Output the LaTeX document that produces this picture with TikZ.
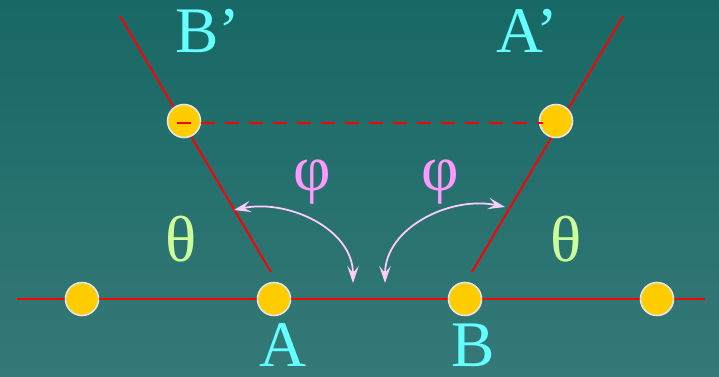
\documentclass[tikz,border=0pt]{standalone}
\usepackage{fontspec}
\setmainfont{Liberation Serif}
\usetikzlibrary{arrows.meta}

\definecolor{bgtop}{RGB}{23,104,102}
\definecolor{bgbot}{RGB}{53,121,119}
\definecolor{ballfill}{RGB}{255,204,0}
\definecolor{ballrim}{RGB}{230,230,230}
\definecolor{labcyan}{RGB}{102,255,255}
\definecolor{phipink}{RGB}{255,153,255}
\definecolor{arcpink}{RGB}{255,204,255}
\definecolor{thetagreen}{RGB}{204,255,153}

\tikzset{
    redline/.style={draw=red, line width=1.1pt},
    ball/.style={circle, fill=ballfill, draw=ballrim, line width=0.9pt,
                 minimum size=0.66cm, inner sep=0pt},
    biglabel/.style={font=\fontsize{37}{40}\selectfont, inner sep=0pt},
    swing/.style={draw=arcpink, line width=1pt,
                  {Stealth[length=3.4mm,width=2.3mm,inset=1.4mm]}-{Stealth[length=3.4mm,width=2.3mm,inset=1.4mm]}}
}

\begin{document}
\begin{tikzpicture}[x=0.02cm, y=0.02cm]
                % 1. Háttér
                \shade[top color=bgtop, bottom color=bgbot] (0,0) rectangle (719,376);
                \useasboundingbox (0,0) rectangle (719,376);

                % 2. Egyenesek végpontjai
                \coordinate (base-l) at (17,77);
                \coordinate (base-r) at (705,77);
                \coordinate (left-top) at (120,360);
                \coordinate (left-bot) at (271,104);
                \coordinate (right-top) at (623,360);
                \coordinate (right-bot) at (472,104);
                \coordinate (dash-l) at (177,253);
                \coordinate (dash-r) at (543,253);

                \draw[redline] (base-l) -- (base-r);
                \draw[redline] (left-top) -- (left-bot);
                \draw[redline] (right-top) -- (right-bot);

                % 3. Golyók
                \foreach \n/\x in {1/82, 2/274, 3/465, 4/657} {
                    \node[ball] (b-\n) at (\x,77) {};
                }
                \node[ball] (bp) at (184,255) {};
                \node[ball] (ap) at (556,255) {};

                \draw[redline, dash pattern=on 0.28cm off 0.2cm] (dash-l) -- (dash-r);

                % 4. Szögnyilak
                \coordinate (arc-l1) at (234,166);
                \coordinate (arc-l2) at (353,93);
                \coordinate (arc-r1) at (385,93);
                \coordinate (arc-r2) at (505,169);
                \draw[swing] (arc-l1) to[out=12, in=90] (arc-l2);
                \draw[swing] (arc-r1) to[out=90, in=168] (arc-r2);

                % 5. Feliratok
                \node[biglabel, text=labcyan, anchor=base] (lab-bp) at (208,324) {B’};
                \node[biglabel, text=labcyan, anchor=base] (lab-ap) at (527,324) {A’};
                \node[biglabel, text=labcyan, anchor=base] (lab-a) at (283,10) {A};
                \node[biglabel, text=labcyan, anchor=base] (lab-b) at (473,10) {B};
                \node[biglabel, text=phipink] (phi-l) at (312,194) {φ};
                \node[biglabel, text=phipink] (phi-r) at (440,194) {φ};
                \node[biglabel, text=thetagreen, anchor=base] (theta-l) at (181,115) {θ};
                \node[biglabel, text=thetagreen, anchor=base] (theta-r) at (566,115) {θ};
\end{tikzpicture}
\end{document}
